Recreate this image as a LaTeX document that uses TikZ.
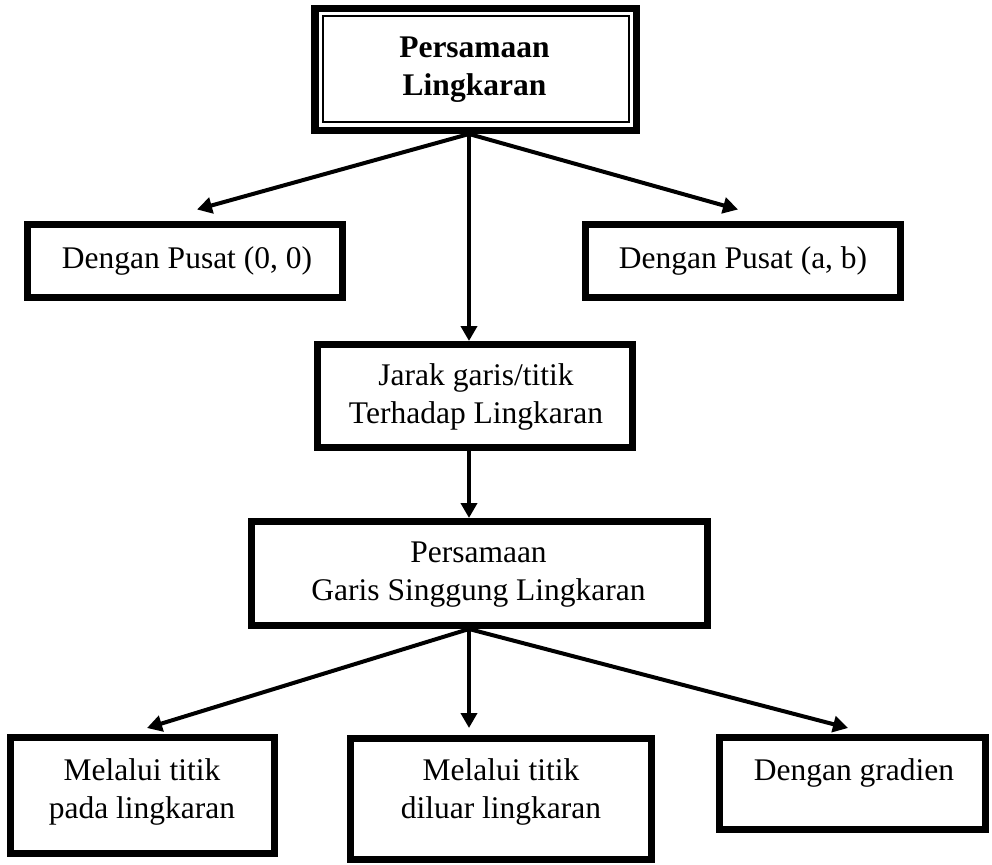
\documentclass[tikz,border=0pt]{standalone}
\usepackage{fontspec}
\setmainfont{Liberation Serif}
\usetikzlibrary{arrows.meta,calc}
\begin{document}
\begin{tikzpicture}[x=1pt,y=-1pt,
  box/.style={draw, rectangle, line width=7pt, inner sep=0pt, outer sep=3.5pt},
  txt/.style={font=\fontsize{31.5}{37.8}\selectfont, align=center, inner sep=0pt},
  conn/.style={line width=4pt, -{Triangle[length=15pt,width=16pt]}}]
\useasboundingbox (0,0) rectangle (992,864);
% boxes
\node[box, line width=7.5pt, outer sep=3.75pt, minimum width=321.5pt, minimum height=121.5pt] (top) at (475.5,69.5) {};
\draw[line width=2pt] ($(top.north west)+(11.5,11.5)$) rectangle ($(top.south east)+(-11.5,-12)$);
\node[box, minimum width=315pt, minimum height=73pt] (b00) at (185,261) {};
\node[box, minimum width=315pt, minimum height=73pt] (bab) at (743,261) {};
\node[box, minimum width=315pt, minimum height=103pt] (jarak) at (475,396) {};
\node[box, minimum width=456pt, minimum height=104pt] (garis) at (479.5,573.5) {};
\node[box, minimum width=264pt, minimum height=116pt] (m1) at (142.5,795.5) {};
\node[box, minimum width=301pt, minimum height=121pt] (m2) at (501,799) {};
\node[box, minimum width=266pt, minimum height=92pt] (grad) at (852.5,783.5) {};
% texts
\node[txt, font=\fontsize{31.5}{37.8}\selectfont\bfseries] (ttop) at (474.5,69.5) {Persamaan\\Lingkaran};
\node[txt] (tb00) at (187,260.5) {Dengan Pusat (0, 0)};
\node[txt] (tbab) at (743,260.5) {Dengan Pusat (a, b)};
\node[txt] (tjarak) at (476,397) {Jarak garis/titik\\Terhadap Lingkaran};
\node[txt] (tgaris) at (478.5,574.5) {Persamaan\\Garis Singgung Lingkaran};
\node[txt] (tm1) at (142,792) {Melalui titik\\pada lingkaran};
\node[txt] (tm2) at (501,792) {Melalui titik\\diluar lingkaran};
\node[txt] (tgrad) at (854,773) {Dengan gradien};
% axis and free arrow ends
\coordinate (ax) at (469,0);
\coordinate (e00) at (197,209.5);
\coordinate (eab) at (738,209.5);
\coordinate (em1) at (147,728);
\coordinate (em2) at (469,728);
\coordinate (egr) at (848,728);
% connectors
\draw[conn] (top.south -| ax) -- (e00);
\draw[conn] (top.south -| ax) -- (eab);
\draw[conn] (top.south -| ax) -- (jarak.north -| ax);
\draw[conn] (jarak.south -| ax) -- (garis.north -| ax);
\draw[conn] (garis.south -| ax) -- (em1);
\draw[conn] (garis.south -| ax) -- (em2);
\draw[conn] (garis.south -| ax) -- (egr);
\end{tikzpicture}
\end{document}
